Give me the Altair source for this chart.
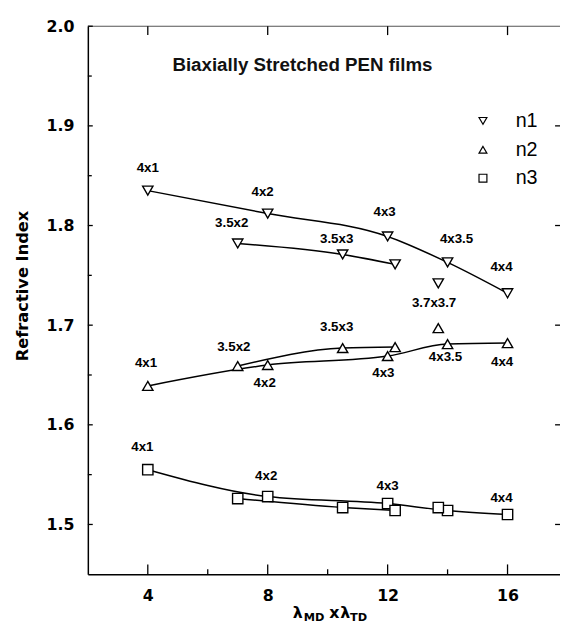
import altair as alt
import pandas as pd

# ---------------- data ----------------
stretch_labels = ["4x1", "4x2", "4x3", "4x3.5", "4x4", "3.5x2", "3.5x3", "3.5x3.5", "3.7x3.7"]
draw_product = [4, 8, 12, 14, 16, 7, 10.5, 12.25, 13.69]
film_set = ["4x", "4x", "4x", "4x", "4x", "3.5x", "3.5x", "3.5x", "3.7x"]
n1 = [1.835, 1.812, 1.789, 1.763, 1.732, 1.782, 1.771, 1.761, 1.742]
n2 = [1.639, 1.660, 1.669, 1.681, 1.682, 1.659, 1.677, 1.678, 1.697]
n3 = [1.555, 1.528, 1.521, 1.514, 1.510, 1.526, 1.517, 1.514, 1.517]
series_names = ["n1", "n2", "n3"]
series_shapes = ["triangle-down", "triangle-up", "square"]

# point annotations
ann_text = ["4x1", "4x2", "4x3", "3.5x2", "3.5x3", "4x3.5", "4x4", "3.7x3.7",
            "4x1", "3.5x2", "4x2", "3.5x3", "4x3", "4x3.5", "4x4",
            "4x1", "4x2", "4x3", "4x4"]
ann_x = [4.0, 7.83, 11.9, 6.8, 10.3, 14.3, 15.8, 13.55,
         3.94, 6.87, 7.9, 10.3, 11.86, 13.93, 15.82,
         3.82, 7.95, 12.0, 15.8]
ann_y = [1.858, 1.834, 1.814, 1.802, 1.786, 1.786, 1.758, 1.722,
         1.662, 1.678, 1.642, 1.698, 1.652, 1.668, 1.663,
         1.578, 1.549, 1.539, 1.526]

# legend placement (data units)
leg_sym_x = 15.18
leg_txt_x = 16.27
leg_y = [1.905, 1.876, 1.8475]

x_major = [4, 8, 12, 16]
x_minor = [6, 10, 14]
y_major = [1.5, 1.6, 1.7, 1.8, 1.9, 2.0]
y_minor = [1.55, 1.65, 1.75, 1.85, 1.95]

X_DOM = [2, 17.75]
Y_DOM = [1.45, 2.0]
W, H = 479, 556
px_x = (X_DOM[1] - X_DOM[0]) / W
px_y = (Y_DOM[1] - Y_DOM[0]) / H

# ---------------- tables ----------------
rows = []
for name, vals in zip(series_names, [n1, n2, n3]):
    for lab, xv, fs, yv in zip(stretch_labels, draw_product, film_set, vals):
        rows.append({"series": name, "label": lab, "x": xv, "film": fs,
                     "line_id": name + "_" + fs, "y": yv})
df = pd.DataFrame(rows)
line_df = df[df["film"] != "3.7x"]
ann_df = pd.DataFrame({"text": ann_text, "x": ann_x, "y": ann_y})
leg_df = pd.DataFrame({"series": series_names, "y": leg_y,
                       "xs": [leg_sym_x] * 3, "xt": [leg_txt_x] * 3})

xs = alt.Scale(domain=X_DOM, nice=False, zero=False)
ys = alt.Scale(domain=Y_DOM, nice=False, zero=False)
shape_scale = alt.Scale(domain=series_names, range=series_shapes)

lines = alt.Chart(line_df).mark_line(
    color="black", strokeWidth=1.5, interpolate="monotone"
).encode(
    x=alt.X("x:Q", scale=xs, axis=alt.Axis(values=x_major, ticks=False, grid=False,
                                           labelPadding=14, title=None, domainWidth=1.5)),
    y=alt.Y("y:Q", scale=ys, axis=alt.Axis(values=y_major, format=".1f", ticks=False, grid=False,
                                           labelPadding=14, title="Refractive Index",
                                           titleFont="DejaVu Sans", titleFontWeight="bold",
                                           titleFontSize=16.5, titleX=-61, titleY=263,
                                           titleAngle=270, titleBaseline="alphabetic",
                                           titleAlign="center", domainWidth=1.5)),
    detail="line_id:N",
)

points = alt.Chart(df).mark_point(
    filled=True, fill="white", stroke="black", strokeWidth=1.4, size=110, opacity=1
).encode(
    x=alt.X("x:Q", scale=xs), y=alt.Y("y:Q", scale=ys),
    shape=alt.Shape("series:N", scale=shape_scale, legend=None),
)

leg_pts = alt.Chart(leg_df).mark_point(
    filled=True, fill="white", stroke="black", strokeWidth=1.2, size=64, opacity=1
).encode(
    x=alt.X("xs:Q", scale=xs), y=alt.Y("y:Q", scale=ys),
    shape=alt.Shape("series:N", scale=shape_scale, legend=None),
)
leg_txt = alt.Chart(leg_df).mark_text(
    font="Liberation Sans", fontSize=20, color="black", align="left", baseline="middle"
).encode(x=alt.X("xt:Q", scale=xs), y=alt.Y("y:Q", scale=ys), text="series:N")

labels = alt.Chart(ann_df).mark_text(
    font="Liberation Sans", fontSize=13.5, fontWeight="bold", color="black",
    align="center", baseline="middle"
).encode(x=alt.X("x:Q", scale=xs), y=alt.Y("y:Q", scale=ys), text="text:N")

title_df = pd.DataFrame({"t": ["Biaxially Stretched PEN films"], "x": [4.82], "y": [1.955]})
title = alt.Chart(title_df).mark_text(
    font="Liberation Sans", fontSize=19, fontWeight="bold", color="#111",
    align="left", baseline="alphabetic"
).encode(x=alt.X("x:Q", scale=xs), y=alt.Y("y:Q", scale=ys), text="t:N")

# inward tick marks as two-point segments through the data scales
seg = []
def add_seg(x0, y0, x1, y1):
    sid = len(seg) // 2
    seg.append({"sid": sid, "x": x0, "y": y0})
    seg.append({"sid": sid, "x": x1, "y": y1})

for v in x_major:
    add_seg(v, Y_DOM[0], v, Y_DOM[0] + 10 * px_y)
    add_seg(v, Y_DOM[1], v, Y_DOM[1] - 9 * px_y)
for v in x_minor:
    add_seg(v, Y_DOM[0], v, Y_DOM[0] + 5 * px_y)
for v in y_major:
    add_seg(X_DOM[0], v, X_DOM[0] + 5 * px_x, v)
for v in y_major[:-1]:
    add_seg(X_DOM[1] - 5 * px_x, v, X_DOM[1], v)
for v in y_minor:
    add_seg(X_DOM[0], v, X_DOM[0] + 4 * px_x, v)
seg_df = pd.DataFrame(seg)

tick_marks = alt.Chart(seg_df).mark_line(color="black", strokeWidth=1.3).encode(
    x=alt.X("x:Q", scale=xs), y=alt.Y("y:Q", scale=ys), detail="sid:N")

top_df = pd.DataFrame({"x": X_DOM, "y": [Y_DOM[1], Y_DOM[1]]})
top_line = alt.Chart(top_df).mark_line(color="#555", strokeWidth=1.2).encode(
    x=alt.X("x:Q", scale=xs), y=alt.Y("y:Q", scale=ys))

# x-axis title with subscripts
xt_text = ["λ", "MD", "x", "λ", "TD"]
xt_left = [208, 219, 245, 256, 266]
xt_base = [600, 603, 600, 600, 603]
xt_size = [16, 11.5, 16, 16, 11.5]
xt_layers = []
for t, xl, yb, fsz in zip(xt_text, xt_left, xt_base, xt_size):
    xt_layers.append(
        alt.Chart(pd.DataFrame({"t": [t]})).mark_text(
            font="DejaVu Sans", fontWeight="bold", fontSize=fsz, color="black",
            align="left", baseline="alphabetic"
        ).encode(text="t:N", x=alt.value(xl), y=alt.value(yb))
    )

chart = alt.layer(
    lines, top_line, tick_marks, points, labels, title, leg_pts, leg_txt, *xt_layers
).properties(
    width=W, height=H,
    autosize=alt.AutoSizeParams(type="none"),
    padding={"left": 81, "top": 14, "right": 0, "bottom": 50},
).configure_view(stroke=None).configure_axis(
    labelFont="DejaVu Sans", labelFontWeight="bold", labelFontSize=16,
    labelColor="black", domainColor="black"
)

chart.save("out.html", embed_options={"renderer": "svg", "actions": False})
